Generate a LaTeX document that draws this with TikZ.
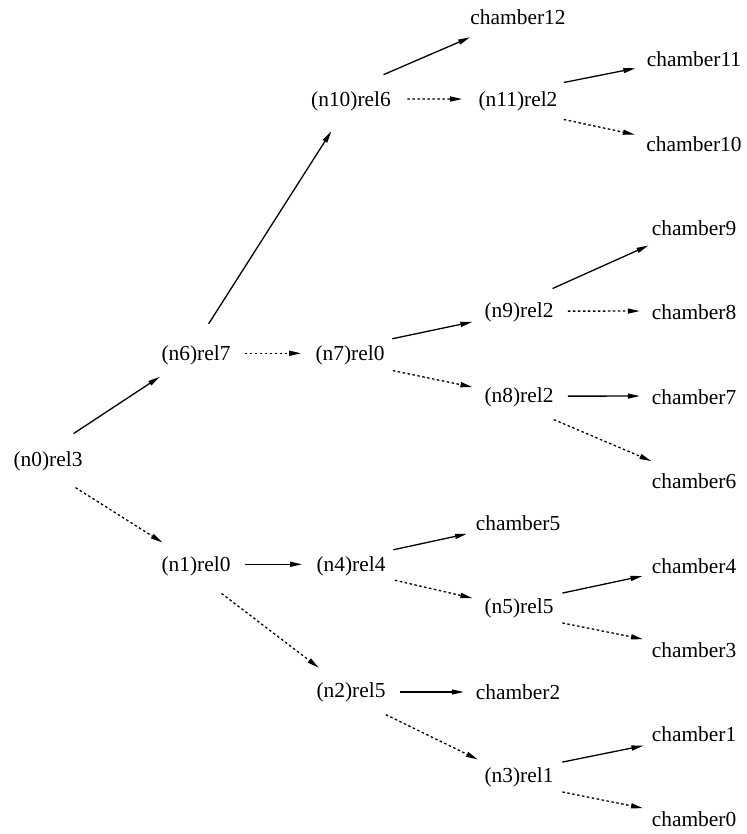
\documentclass[tikz,border=0pt]{standalone}
\usepackage{fontspec}
\setmainfont{Liberation Serif}
\usetikzlibrary{arrows.meta,shapes.geometric}

\begin{document}
\begin{tikzpicture}[x=1pt,y=-1pt,
  rel/.style={ellipse,inner sep=0pt,minimum width=96pt,minimum height=64pt,font=\fontsize{21.4pt}{25pt}\selectfont},
  cham/.style={rel,inner xsep=-4pt},
  hi/.style={line width=1.3pt,-{Triangle[length=12pt,width=5pt]}},
  lo/.style={hi,dash pattern=on 2.5pt off 2.5pt}]

\useasboundingbox (0,0) rectangle (746,834);

%rel nodes
\node[rel] (n0) at (48,461) {(n0)rel3};
\node[rel] (n6) at (196,355) {(n6)rel7};
\node[rel] (n1) at (196,566) {(n1)rel0};
\node[rel] (n10) at (351,101) {(n10)rel6};
\node[rel] (n7) at (350,355) {(n7)rel0};
\node[rel] (n4) at (351,566) {(n4)rel4};
\node[rel] (n2) at (351,692) {(n2)rel5};
\node[rel] (n11) at (518,101) {(n11)rel2};
\node[rel] (n9) at (519,312) {(n9)rel2};
\node[rel] (n8) at (519,397) {(n8)rel2};
\node[rel] (n5) at (519,608) {(n5)rel5};
\node[rel] (n3) at (519,777) {(n3)rel1};

%chambers
\node[cham] (c12) at (518,17) {chamber12};
\node[cham] (c5) at (518,523) {chamber5};
\node[cham] (c2) at (518,692) {chamber2};
\node[cham] (c11) at (694,59) {chamber11};
\node[cham] (c10) at (694,144) {chamber10};
\node[cham] (c9) at (694,228) {chamber9};
\node[cham] (c8) at (694,312) {chamber8};
\node[cham] (c7) at (694,397) {chamber7};
\node[cham] (c6) at (694,481) {chamber6};
\node[cham] (c4) at (694,566) {chamber4};
\node[cham] (c3) at (694,650) {chamber3};
\node[cham] (c1) at (694,734) {chamber1};
\node[cham] (c0) at (694,819) {chamber0};

\draw[hi] (n0.47) -- (n6.211);   \draw[lo] (n0.316) -- (n1.145);
\draw[hi] (n6.68) -- (n10.237);  \draw[lo] (n6.2) -- (n7.178);
\draw[hi] (n1.2) -- (n4.178);    \draw[lo] (n1.313) -- (n2.143);

\draw[hi] (n10.39) -- (c12.203); \draw[lo] (n10.2) -- (n11.178);
\draw[hi] (n11.22) -- (c11.189); \draw[lo] (n11.338) -- (c10.171);

\draw[hi] (n7.21) -- (n9.192);   \draw[lo] (n7.340) -- (n8.168);
\draw[hi] (n9.35) -- (c9.201);   \draw[lo] (n9.1) -- (c8.179);
\draw[hi] (n8.1) -- (c7.179);    \draw[lo] (n8.327) -- (c6.155);

\draw[hi] (n4.21) -- (c5.192);   \draw[lo] (n4.342) -- (n5.168);
\draw[hi] (n5.19) -- (c4.191);   \draw[lo] (n5.341) -- (c3.168);

\draw[hi] (n2.0) -- (c2.180);    \draw[lo] (n2.327) -- (n3.157);
\draw[hi] (n3.19) -- (c1.193);   \draw[lo] (n3.341) -- (c0.168);
\end{tikzpicture}
\end{document}
